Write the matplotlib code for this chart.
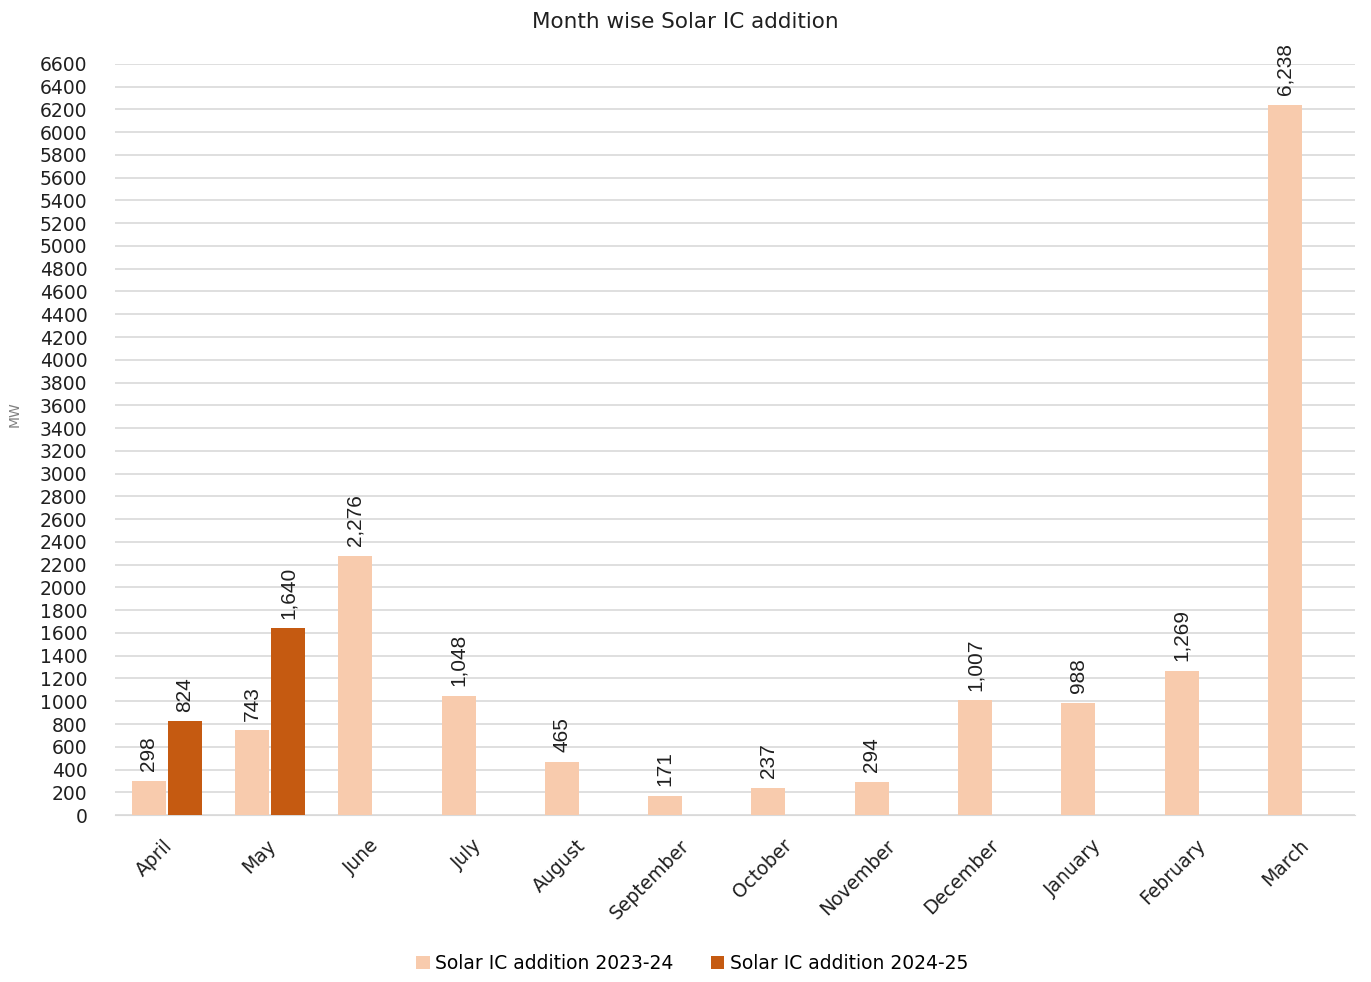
import numpy as np
import matplotlib
matplotlib.use("Agg")
from matplotlib import pyplot as plt

months = ["April", "May", "June", "July", "August", "September", "October",
          "November", "December", "January", "February", "March"]
ic_2023_24 = [298, 743, 2276, 1048, 465, 171, 237, 294, 1007, 988, 1269, 6238]
ic_2024_25 = [824, 1640]
series_names = ["Solar IC addition 2023-24", "Solar IC addition 2024-25"]

light = "#F8CBAD"
dark = "#C55A11"

plt.rcParams['font.family'] = ['DejaVu Sans']

fig = plt.figure(figsize=(13.71, 9.82), dpi=100)
ax = fig.add_axes([0.084, 0.17, 0.904, 0.765])

x = np.arange(len(months))
w = 0.33
b1 = ax.bar(x - w / 2 - 0.01, ic_2023_24, width=w, color=light, label=series_names[0], zorder=3)
x2 = np.arange(len(ic_2024_25))
b2 = ax.bar(x2 + w / 2 + 0.01, ic_2024_25, width=w, color=dark, label=series_names[1], zorder=3)

for bars in (b1, b2):
    for rect in bars:
        h = rect.get_height()
        ax.annotate(f"{h:,.0f}", (rect.get_x() + rect.get_width() / 2, h),
                    xytext=(0, 7), textcoords="offset points", rotation=90,
                    ha="center", va="bottom", fontsize=15, family="Liberation Sans",
                    color="#202020", annotation_clip=False)

ax.set_xlim(-0.5, len(months) - 0.5)
ax.set_ylim(0, 6600)
ax.set_yticks(np.arange(0, 6601, 200))
ax.tick_params(axis="y", labelsize=13.5, length=0, pad=20, labelcolor="#202020")
ax.set_xticks(x)
ax.set_xticklabels(months, rotation=45, ha="right", rotation_mode="anchor",
                   fontsize=13.5, color="#202020")
ax.tick_params(axis="x", length=0, pad=15)
for lab in ax.get_xticklabels():
    lab.set_transform(lab.get_transform() + matplotlib.transforms.ScaledTranslation(-0.04, 0, fig.dpi_scale_trans))

ax.grid(axis="y", color="#D9D9D9", linewidth=1.2, zorder=0)
for s in ["top", "right", "left"]:
    ax.spines[s].set_visible(False)
ax.spines["bottom"].set_color("#D9D9D9")

fig.text(0.5, 0.978, "Month wise Solar IC addition", ha="center", va="center",
         fontsize=15.5, color="#202020")
fig.text(0.011, 0.578, "MW", rotation=90, ha="center", va="center",
         fontsize=10, color="#808080")

fig.legend(handles=[b1, b2], labels=series_names, loc="center", ncol=2,
           bbox_to_anchor=(0.505, 0.019), frameon=False, fontsize=13.5,
           handlelength=0.7, handleheight=0.7, handletextpad=0.3, columnspacing=2.0)

fig.savefig("out.png", dpi=100)
